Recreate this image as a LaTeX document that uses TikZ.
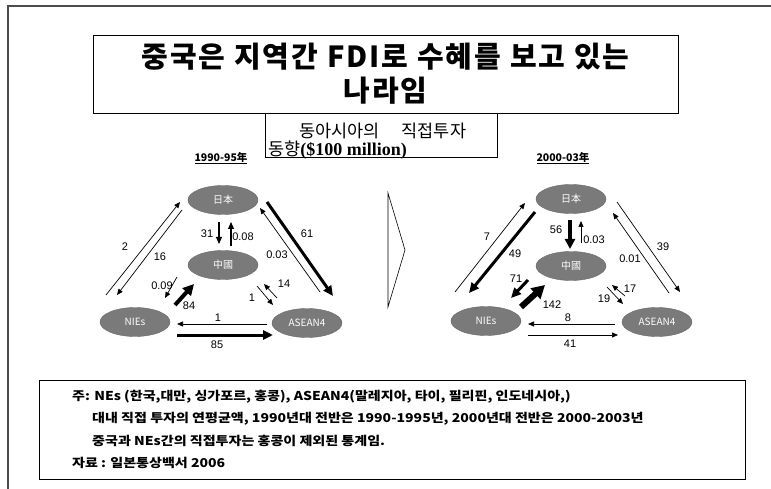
\documentclass[tikz,border=0pt]{standalone}
\usepackage{fontspec}
\setmainfont{Liberation Sans}
\newfontfamily\kr{Noto Sans CJK KR}
\newfontfamily\krwide{Noto Sans CJK KR}[FakeStretch=1.15]
\newfontfamily\tms{Liberation Serif}
\usetikzlibrary{arrows.meta,shapes.geometric}
\begin{document}
\begin{tikzpicture}[x=1pt,y=-1pt,
  region/.style={ellipse, fill=black!52, draw=black!60, minimum width=70pt, minimum height=29pt,
    inner sep=0pt, text=white, font=\kr\fontsize{10}{11}\selectfont},
  num/.style={inner sep=0pt, font=\fontsize{11}{12}\selectfont},
  thin/.style={line width=0.7pt, -{Triangle[length=6pt,width=5pt]}},
  mid/.style={line width=1.1pt, -{Triangle[length=7pt,width=6pt]}},
  thick/.style={line width=3pt, -{Triangle[length=10pt,width=9pt]}},
  heavy/.style={line width=6pt, -{Triangle[length=13pt,width=14pt]}},
  yearlbl/.style={inner sep=0pt, font=\kr\bfseries\fontsize{10.5}{12}\selectfont},
  note/.style={anchor=west, inner sep=0pt, font=\krwide\bfseries\fontsize{12.2}{14}\selectfont}
]
\useasboundingbox (0,0) rectangle (771,489);
% outer frame
\draw[gray!60!black, line width=1.3pt] (8,489) -- (8,6) -- (771,6);

% title
\node[draw, line width=0.8pt, minimum width=585pt, minimum height=78pt, inner sep=0pt, align=center,
  font=\kr\bfseries\fontsize{29}{34}\selectfont\addfontfeature{LetterSpace=7}] (title) at (385.5,74)
  {중국은 지역간 FDI로 수혜를 보고 있는\\나라임};
\node[draw, line width=0.8pt, minimum width=232pt, minimum height=44pt, inner sep=0pt] (subbox) at (381,135) {};
\node[anchor=west, inner sep=0pt, font=\kr\fontsize{17.5}{19}\selectfont] (sub1) at (299,131) {동아시아의\hspace{22pt}직접투자};
\node[anchor=west, inner sep=0pt, font=\kr\fontsize{17.5}{19}\selectfont] (sub2) at (268,150) {동향{\tms\bfseries\fontsize{18}{19}\selectfont(\$100 million)}};

% year labels
\node[yearlbl] (y1) at (221,158) {\underline{1990-95年}};
\node[yearlbl] (y2) at (563,158) {\underline{2000-03年}};

% chevron
\draw[line width=0.6pt] (388,193) -- (405,250) -- (388,307) -- cycle;

% ===== left diagram =====
\node[region] (J1) at (223,200) {日本};
\node[region] (C1) at (223,265) {中國};
\node[region] (N1) at (135,322) {NIEs};
\node[region] (A1) at (307,323) {ASEAN4};

\coordinate (p1) at (106,295); \coordinate (q1) at (180,202);
\coordinate (p2) at (182,210); \coordinate (q2) at (117,295);
\coordinate (p3) at (219,222); \coordinate (q3) at (219,244);
\coordinate (p4) at (231,246); \coordinate (q4) at (231,222);
\coordinate (p5) at (267,202); \coordinate (q5) at (333,296);
\coordinate (p6) at (320,292); \coordinate (q6) at (260,208);
\coordinate (p7) at (177,277); \coordinate (q7) at (165,298);
\coordinate (p8) at (175,305); \coordinate (q8) at (194,284);
\coordinate (p9) at (257,286); \coordinate (q9) at (273,305);
\coordinate (p10) at (277,298); \coordinate (q10) at (264,284);
\coordinate (p11) at (267,324); \coordinate (q11) at (177,324);
\coordinate (p12) at (177,335); \coordinate (q12) at (273,335);

\draw[thin] (p1) -- (q1);
\draw[thin] (p2) -- (q2);
\draw[mid] (p3) -- (q3);
\draw[mid] (p4) -- (q4);
\draw[thick] (p5) -- (q5);
\draw[thin] (p6) -- (q6);
\draw[thin] (p7) -- (q7);
\draw[line width=4pt, -{Triangle[length=11pt,width=11pt]}] (p8) -- (q8);
\draw[thin] (p9) -- (q9);
\draw[thin] (p10) -- (q10);
\draw[thin] (p11) -- (q11);
\draw[thick] (p12) -- (q12);

\node[num] (l1) at (125,247) {2};
\node[num] (l2) at (160,257) {16};
\node[num] (l3) at (207,234) {31};
\node[num] (l4) at (243,237) {0.08};
\node[num] (l5) at (307,234) {61};
\node[num] (l6) at (277,255) {0.03};
\node[num] (l7) at (162,286) {0.09};
\node[num] (l8) at (189,306) {84};
\node[num] (l9) at (284,284) {14};
\node[num] (l10) at (252,298) {1};
\node[num] (l11) at (218,318) {1};
\node[num] (l12) at (217,345) {85};

% ===== right diagram =====
\node[region] (J2) at (571,199) {日本};
\node[region] (C2) at (571,266) {中國};
\node[region] (N2) at (486,321) {NIEs};
\node[region] (A2) at (657,322) {ASEAN4};

\coordinate (r1) at (455,292); \coordinate (s1) at (525,203);
\coordinate (r2) at (535,212); \coordinate (s2) at (469,293);
\coordinate (r3) at (570,220); \coordinate (s3) at (570,249);
\coordinate (r4) at (581,243); \coordinate (s4) at (581,221);
\coordinate (r5) at (617,202); \coordinate (s5) at (680,292);
\coordinate (r6) at (669,293); \coordinate (s6) at (613,213);
\coordinate (r7) at (528,280); \coordinate (s7) at (511,298);
\coordinate (r8) at (521,307); \coordinate (s8) at (545,285);
\coordinate (r9) at (625,296); \coordinate (s9) at (612,285);
\coordinate (r10) at (607,287); \coordinate (s10) at (623,304);
\coordinate (r11) at (615,324); \coordinate (s11) at (528,324);
\coordinate (r12) at (528,335); \coordinate (s12) at (618,335);

\draw[thin] (r1) -- (s1);
\draw[thick] (r2) -- (s2);
\draw[line width=3.5pt, -{Triangle[length=10pt,width=10pt]}] (r3) -- (s3);
\draw[thin] (r4) -- (s4);
\draw[thin] (r5) -- (s5);
\draw[thin] (r6) -- (s6);
\draw[thick] (r7) -- (s7);
\draw[heavy] (r8) -- (s8);
\draw[thin] (r9) -- (s9);
\draw[thin] (r10) -- (s10);
\draw[thin] (r11) -- (s11);
\draw[thin] (r12) -- (s12);

\node[num] (m1) at (487,237) {7};
\node[num] (m2) at (515,254) {49};
\node[num] (m3) at (556,230) {56};
\node[num] (m4) at (594,240) {0.03};
\node[num] (m5) at (663,247) {39};
\node[num] (m6) at (630,259) {0.01};
\node[num] (m7) at (516,279) {71};
\node[num] (m8) at (552,305) {142};
\node[num] (m9) at (630,289) {17};
\node[num] (m10) at (604,299) {19};
\node[num] (m11) at (568,318) {8};
\node[num] (m12) at (570,344) {41};

% ===== footnote =====
\node[draw, line width=0.8pt, minimum width=706pt, minimum height=99pt, inner sep=0pt] (notebox) at (392,429.5) {};
\node[note] (n1) at (72,397) {주: NEs (한국,대만, 싱가포르, 홍콩), ASEAN4(말레지아, 타이, 필리핀, 인도네시아,)};
\node[note] (n2) at (92,419) {대내 직접 투자의 연평균액, 1990년대 전반은 1990-1995년, 2000년대 전반은 2000-2003년};
\node[note] (n3) at (92,441) {중국과 NEs간의 직접투자는 홍콩이 제외된 통계임.};
\node[note] (n4) at (72,463) {자료 : 일본통상백서 2006};
\end{tikzpicture}
\end{document}
